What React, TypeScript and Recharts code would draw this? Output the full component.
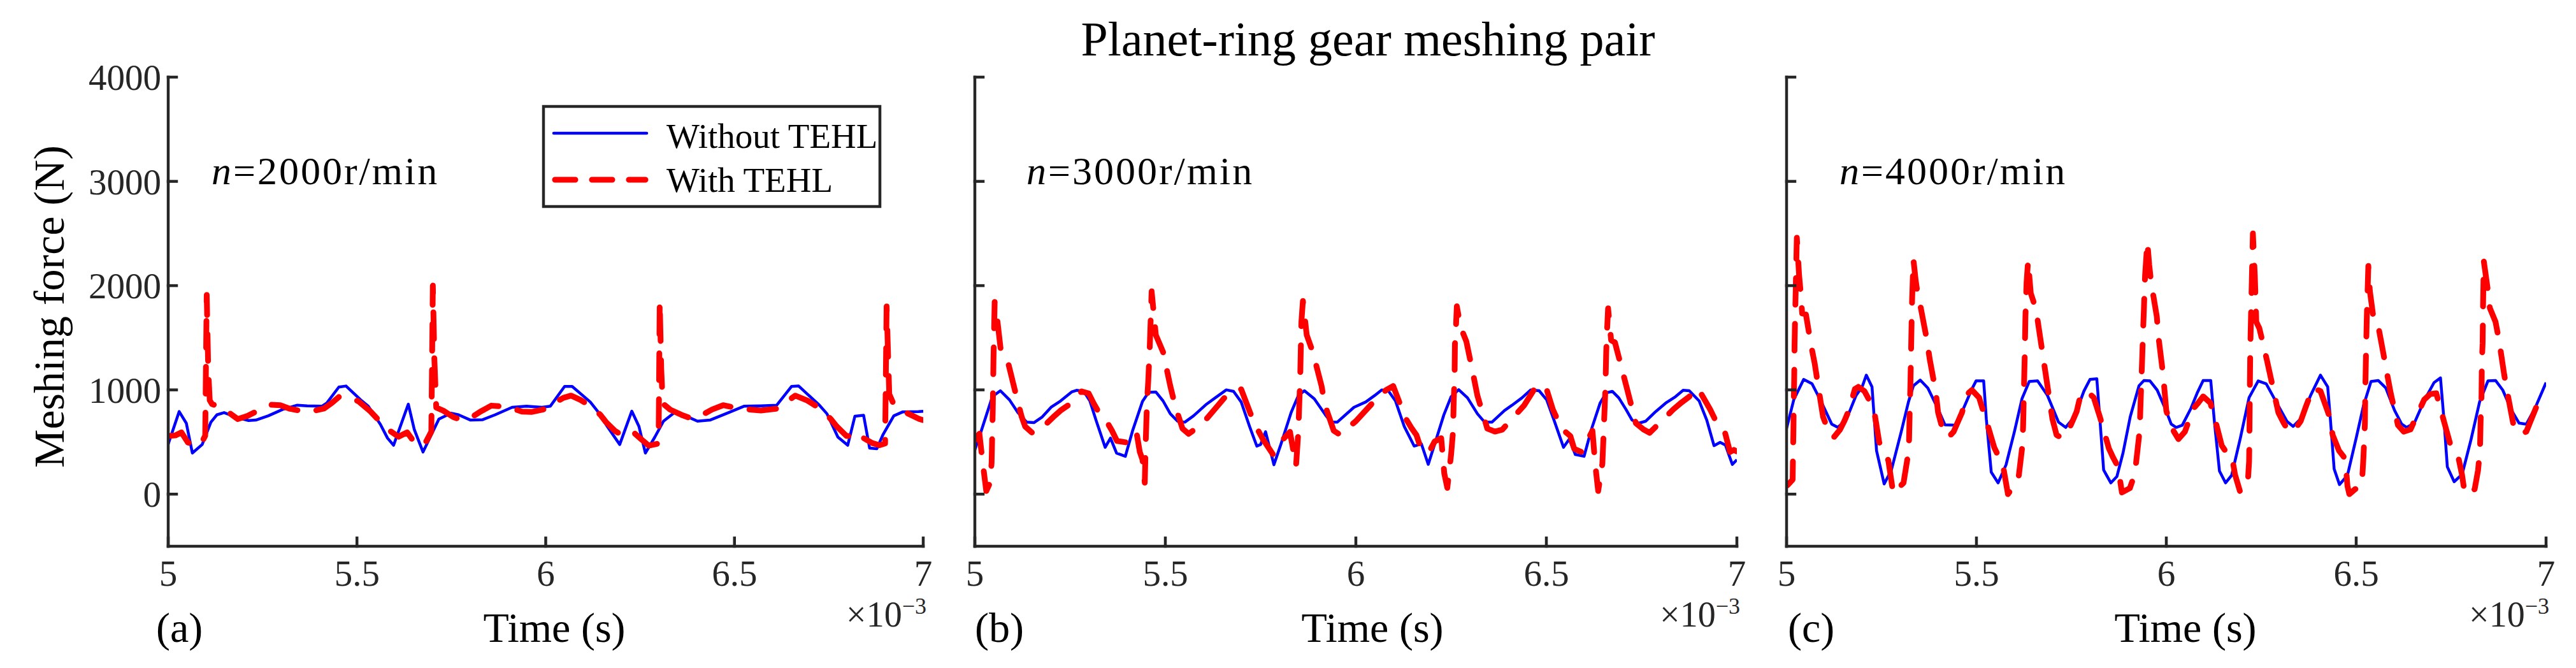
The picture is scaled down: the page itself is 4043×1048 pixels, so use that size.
import React from "react";
import { LineChart, Line, XAxis, YAxis } from "recharts";

// meshing force (N) vs time (x1e-3 s)
type Pt = [number, number];

const timeTicks = [5, 5.5, 6, 6.5, 7];
const forceTicks = [0, 1000, 2000, 3000, 4000];
const speeds = ["2000", "3000", "4000"];
const panelTags = ["(a)", "(b)", "(c)"];
const seriesNames = ["Without TEHL", "With TEHL"];

const aWithout: Pt[] = [
  [5.0, 480], [5.029, 792], [5.048, 680], [5.064, 394], [5.09, 476], [5.113, 690], [5.129, 761], [5.148, 782],
  [5.187, 730], [5.213, 706], [5.232, 710], [5.265, 751], [5.303, 812], [5.342, 853], [5.368, 847], [5.407, 843],
  [5.42, 873], [5.452, 1027], [5.471, 1037], [5.51, 904], [5.53, 843], [5.562, 669], [5.581, 537], [5.597, 469],
  [5.636, 863], [5.652, 618], [5.675, 404], [5.698, 578], [5.717, 720], [5.749, 776], [5.769, 761], [5.801, 710],
  [5.833, 714], [5.866, 761], [5.911, 833], [5.949, 843], [5.99, 833], [6.012, 843], [6.05, 1033], [6.07, 1033],
  [6.118, 884], [6.138, 792], [6.163, 649], [6.196, 476], [6.228, 796], [6.247, 649], [6.264, 394], [6.289, 547],
  [6.312, 700], [6.341, 782], [6.37, 751], [6.402, 700], [6.435, 710], [6.48, 776], [6.525, 843], [6.57, 847],
  [6.612, 853], [6.651, 1033], [6.67, 1037], [6.725, 853], [6.745, 771], [6.774, 547], [6.8, 469], [6.819, 747],
  [6.842, 757], [6.858, 441], [6.877, 435], [6.893, 567], [6.922, 751], [6.945, 788], [6.987, 792], [7.0, 795],
];

const aWith: Pt[] = [
  [5.0, 557], [5.019, 563], [5.035, 592], [5.052, 496], [5.071, 465], [5.085, 470], [5.098, 560], [5.102, 1910],
  [5.106, 1200], [5.11, 900], [5.116, 863], [5.142, 833], [5.161, 782], [5.184, 720], [5.21, 750], [5.236, 798],
  [5.271, 857], [5.297, 853], [5.323, 818], [5.35, 800], [5.374, 788], [5.413, 822], [5.433, 873], [5.453, 935],
  [5.48, 930], [5.504, 890], [5.536, 792], [5.565, 680], [5.59, 600], [5.61, 551], [5.633, 592], [5.652, 496],
  [5.678, 469], [5.697, 600], [5.701, 2000], [5.705, 1300], [5.71, 830], [5.729, 800], [5.755, 740], [5.778, 710],
  [5.801, 730], [5.827, 792], [5.856, 849], [5.885, 840], [5.911, 822], [5.937, 792], [5.962, 788], [5.999, 816],
  [6.025, 880], [6.047, 924], [6.067, 945], [6.092, 904], [6.125, 828], [6.145, 760], [6.16, 690], [6.183, 608],
  [6.209, 551], [6.234, 588], [6.255, 520], [6.273, 465], [6.299, 486], [6.302, 1850], [6.306, 1200], [6.31, 870],
  [6.33, 810], [6.36, 760], [6.39, 720], [6.415, 761], [6.441, 812], [6.47, 853], [6.5, 830], [6.525, 816],
  [6.57, 802], [6.616, 822], [6.64, 890], [6.661, 945], [6.693, 898], [6.735, 802], [6.755, 720], [6.771, 649],
  [6.797, 557], [6.816, 557], [6.832, 588], [6.842, 537], [6.865, 490], [6.884, 469], [6.899, 486], [6.903, 1800],
  [6.91, 960], [6.922, 860], [6.95, 790], [6.99, 720], [7.0, 710],
];

const bWithout: Pt[] = [
  [5.0, 424], [5.017, 608], [5.046, 935], [5.067, 992], [5.091, 904], [5.113, 782], [5.136, 690], [5.155, 686],
  [5.177, 741], [5.2, 833], [5.225, 894], [5.254, 980], [5.267, 996], [5.286, 986], [5.302, 894], [5.318, 710],
  [5.342, 449], [5.356, 537], [5.372, 394], [5.395, 363], [5.414, 608], [5.44, 890], [5.456, 976], [5.475, 980],
  [5.494, 894], [5.513, 771], [5.532, 700], [5.551, 690], [5.574, 751], [5.606, 857], [5.631, 924], [5.66, 1000],
  [5.679, 986], [5.699, 884], [5.721, 649], [5.74, 461], [5.75, 476], [5.763, 598], [5.785, 282], [5.804, 486],
  [5.83, 782], [5.849, 945], [5.865, 992], [5.891, 914], [5.92, 761], [5.935, 690], [5.951, 690], [5.995, 833],
  [6.026, 884], [6.049, 945], [6.068, 1000], [6.085, 992], [6.104, 894], [6.127, 649], [6.153, 461], [6.172, 482],
  [6.19, 286], [6.211, 527], [6.231, 761], [6.25, 935], [6.27, 1002], [6.293, 924], [6.319, 771], [6.338, 690],
  [6.357, 690], [6.39, 802], [6.41, 853], [6.436, 924], [6.459, 1000], [6.481, 992], [6.501, 904], [6.52, 710],
  [6.545, 449], [6.56, 527], [6.576, 380], [6.599, 363], [6.618, 618], [6.641, 873], [6.657, 971], [6.673, 986],
  [6.69, 924], [6.709, 812], [6.725, 710], [6.742, 680], [6.761, 700], [6.787, 792], [6.813, 873], [6.839, 935],
  [6.859, 996], [6.875, 992], [6.901, 894], [6.921, 710], [6.94, 465], [6.956, 496], [6.97, 470], [6.988, 285],
  [7.0, 330],
];

const bWith: Pt[] = [
  [5.0, 516], [5.012, 580], [5.02, 320], [5.03, 30], [5.04, 110], [5.044, 300], [5.047, 800], [5.049, 1300],
  [5.052, 1843], [5.059, 1669], [5.068, 1384], [5.088, 1251], [5.11, 924], [5.123, 741], [5.132, 649], [5.152, 584],
  [5.187, 673], [5.206, 740], [5.225, 802], [5.26, 890], [5.28, 986], [5.299, 965], [5.312, 870], [5.324, 792],
  [5.344, 710], [5.36, 608], [5.373, 510], [5.398, 496], [5.424, 598], [5.433, 404], [5.44, 330], [5.446, 110],
  [5.449, 560], [5.452, 894], [5.455, 1078], [5.459, 1404], [5.464, 1945], [5.475, 1527], [5.494, 1363],
  [5.513, 1037], [5.526, 843], [5.545, 629], [5.561, 578], [5.58, 629], [5.603, 700], [5.66, 945], [5.679, 975],
  [5.699, 1006], [5.731, 700], [5.744, 608], [5.756, 527], [5.782, 384], [5.804, 506], [5.827, 598], [5.843, 271],
  [5.849, 598], [5.854, 1129], [5.857, 1649], [5.861, 1853], [5.871, 1527], [5.887, 1363], [5.91, 1037],
  [5.919, 853], [5.942, 608], [5.958, 571], [5.977, 630], [6.0, 700], [6.059, 935], [6.08, 1000], [6.098, 1037],
  [6.13, 731], [6.145, 640], [6.159, 567], [6.172, 424], [6.192, 404], [6.207, 506], [6.224, 537], [6.232, 200],
  [6.24, 60], [6.25, 380], [6.255, 600], [6.257, 914], [6.259, 1098], [6.26, 1435], [6.263, 1629], [6.265, 1802],
  [6.275, 1600], [6.29, 1465], [6.309, 1129], [6.319, 945], [6.345, 629], [6.365, 600], [6.384, 618], [6.442, 853],
  [6.472, 1027], [6.498, 1037], [6.517, 812], [6.54, 629], [6.563, 557], [6.573, 435], [6.592, 404], [6.621, 608],
  [6.628, 292], [6.636, 30], [6.647, 292], [6.65, 560], [6.653, 833], [6.655, 1016], [6.657, 1353], [6.659, 1547],
  [6.662, 1782], [6.67, 1476], [6.68, 1455], [6.699, 1190], [6.712, 1006], [6.735, 680], [6.755, 620], [6.771, 588],
  [6.833, 812], [6.855, 880], [6.875, 935], [6.898, 1016], [6.93, 812], [6.953, 639], [6.969, 588], [6.982, 404],
  [6.992, 424], [7.0, 410],
];

const cWithout: Pt[] = [
  [5.0, 630], [5.019, 906], [5.045, 1100], [5.067, 1059], [5.09, 896], [5.119, 671], [5.135, 640], [5.157, 712],
  [5.183, 947], [5.199, 1029], [5.21, 1141], [5.225, 1029], [5.231, 722], [5.237, 415], [5.257, 98], [5.276, 231],
  [5.302, 599], [5.321, 885], [5.334, 1039], [5.352, 1094], [5.372, 1018], [5.398, 824], [5.417, 665], [5.443, 661],
  [5.459, 763], [5.488, 1008], [5.499, 1086], [5.519, 1086], [5.526, 722], [5.539, 211], [5.557, 108], [5.578, 282],
  [5.6, 599], [5.62, 916], [5.639, 1080], [5.661, 1086], [5.687, 947], [5.716, 691], [5.735, 640], [5.758, 742],
  [5.783, 988], [5.799, 1100], [5.817, 1106], [5.825, 722], [5.835, 231], [5.854, 108], [5.87, 170], [5.886, 395],
  [5.905, 742], [5.928, 1039], [5.941, 1090], [5.957, 1086], [5.976, 998], [5.999, 804], [6.013, 671], [6.026, 640],
  [6.042, 661], [6.065, 824], [6.081, 967], [6.097, 1090], [6.117, 1090], [6.127, 681], [6.14, 221], [6.156, 108],
  [6.172, 180], [6.195, 538], [6.218, 926], [6.242, 1086], [6.263, 1059], [6.286, 906], [6.318, 697], [6.334, 650],
  [6.354, 722], [6.38, 947], [6.406, 1141], [6.425, 1029], [6.432, 722], [6.442, 241], [6.456, 92], [6.477, 180],
  [6.5, 538], [6.519, 845], [6.539, 1080], [6.558, 1090], [6.578, 1018], [6.601, 804], [6.62, 671], [6.633, 640],
  [6.653, 681], [6.679, 896], [6.705, 1070], [6.722, 1115], [6.731, 722], [6.74, 262], [6.758, 119], [6.779, 190],
  [6.802, 517], [6.825, 885], [6.847, 1086], [6.867, 1090], [6.886, 998], [6.909, 804], [6.929, 681], [6.948, 671],
  [6.971, 824], [7.0, 1070],
];

const cWith: Pt[] = [
  [5.0, 80], [5.003, 88], [5.016, 139], [5.017, 395], [5.018, 600], [5.019, 906], [5.02, 1090], [5.021, 1427],
  [5.022, 1611], [5.024, 1949], [5.027, 2460], [5.033, 2100], [5.038, 1900], [5.041, 1734], [5.051, 1724],
  [5.064, 1438], [5.074, 1254], [5.088, 926], [5.096, 742], [5.115, 558], [5.125, 548], [5.141, 620], [5.152, 700],
  [5.164, 804], [5.18, 1008], [5.189, 1029], [5.205, 988], [5.218, 900], [5.23, 814], [5.244, 497], [5.256, 410],
  [5.268, 323], [5.281, 6], [5.295, 60], [5.308, 108], [5.322, 425], [5.324, 760], [5.326, 1030], [5.328, 1400],
  [5.33, 1800], [5.334, 2250], [5.34, 2050], [5.346, 1900], [5.353, 1795], [5.369, 1489], [5.377, 1294],
  [5.393, 978], [5.399, 783], [5.414, 579], [5.427, 548], [5.44, 599], [5.452, 700], [5.462, 783], [5.475, 957],
  [5.488, 998], [5.507, 926], [5.515, 830], [5.523, 742], [5.547, 446], [5.56, 350], [5.57, 272], [5.583, 0],
  [5.598, 80], [5.611, 160], [5.621, 466], [5.623, 661], [5.625, 1000], [5.627, 1300], [5.629, 1703], [5.632, 2030],
  [5.636, 2236], [5.643, 1928], [5.65, 1850], [5.658, 1744], [5.671, 1427], [5.679, 1233], [5.692, 916],
  [5.7, 722], [5.711, 568], [5.725, 538], [5.742, 609], [5.753, 700], [5.764, 793], [5.774, 947], [5.79, 988],
  [5.809, 926], [5.825, 742], [5.849, 436], [5.86, 350], [5.873, 262], [5.883, 16], [5.904, 57], [5.912, 140],
  [5.918, 221], [5.928, 548], [5.931, 742], [5.934, 1059], [5.936, 1254], [5.939, 1581], [5.941, 1775],
  [5.944, 2092], [5.95, 2420], [5.955, 2200], [5.96, 2030], [5.975, 1703], [5.979, 1519], [5.99, 1192],
  [5.995, 1008], [6.0, 800], [6.01, 681], [6.02, 600], [6.032, 528], [6.049, 599], [6.07, 814], [6.085, 880],
  [6.097, 937], [6.116, 875], [6.133, 650], [6.146, 466], [6.159, 395], [6.172, 374], [6.181, 186], [6.194, 27],
  [6.214, 78], [6.218, 313], [6.219, 600], [6.22, 1018], [6.221, 1356], [6.222, 1540], [6.224, 1867], [6.228, 2500],
  [6.233, 2100], [6.237, 1652], [6.245, 1591], [6.265, 1284], [6.276, 1100], [6.295, 783], [6.308, 690],
  [6.321, 609], [6.334, 599], [6.354, 701], [6.367, 834], [6.386, 1018], [6.406, 988], [6.429, 753], [6.438, 568],
  [6.455, 415], [6.468, 354], [6.473, 262], [6.477, 78], [6.482, 0], [6.497, 47], [6.513, 67], [6.516, 160],
  [6.519, 344], [6.523, 681], [6.524, 1000], [6.526, 1366], [6.528, 1703], [6.532, 2188], [6.536, 1949],
  [6.545, 1703], [6.555, 1673], [6.565, 1479], [6.581, 1162], [6.591, 967], [6.61, 661], [6.625, 600], [6.643, 620],
  [6.679, 906], [6.695, 960], [6.711, 967], [6.734, 661], [6.748, 476], [6.769, 354], [6.779, 180], [6.786, 0],
  [6.812, 47], [6.821, 231], [6.826, 425], [6.828, 753], [6.83, 937], [6.831, 1274], [6.833, 1448], [6.834, 1785],
  [6.836, 2236], [6.847, 1949], [6.852, 1785], [6.867, 1652], [6.877, 1458], [6.89, 1141], [6.899, 957],
  [6.916, 630], [6.932, 580], [6.948, 599], [6.981, 896], [7.0, 950],
];

const FONT = '"Liberation Serif", "Times New Roman", Times, serif';
const AXIS = "#262626";
const BLUE = "#0000ff";
const RED = "#ff0000";
const W = 4043;
const H = 1048;
const PLOT_TOP = 121;
const PLOT_BOTTOM = 857;
const XAXIS_H = 60;

const toRows = (pts: Pt[]) => pts.map(([t, f]) => ({ t, f }));

const panels = [
  { left: 264, right: 1449, without: aWithout, withT: aWith, tagX: 245, timeX: 870, noteX: 332 },
  { left: 1530, right: 2726, without: bWithout, withT: bWith, tagX: 1530, timeX: 2154, noteX: 1611 },
  { left: 2804, right: 3996, without: cWithout, withT: cWith, tagX: 2806, timeX: 3430, noteX: 2887 },
];

const lineStyle = { stroke: AXIS, strokeWidth: 4.5, strokeLinecap: "square" as const };

function Panel({ idx }: { idx: number }) {
  const p = panels[idx];
  const showY = idx === 0;
  const yw = showY ? p.left : 20;
  const chartLeft = p.left - yw;
  const plotW = p.right - p.left;
  const width = yw + plotW + 20;
  return (
    <div style={{ position: "absolute", left: chartLeft, top: 0 }}>
      <LineChart
        width={width}
        height={H}
        margin={{ top: PLOT_TOP, right: 20, bottom: H - PLOT_BOTTOM - XAXIS_H, left: 0 }}
      >
        <XAxis
          xAxisId="b"
          dataKey="t"
          type="number"
          domain={[5, 7]}
          ticks={timeTicks}
          interval={0}
          allowDataOverflow
          height={XAXIS_H}
          tickSize={-13}
          tickMargin={35}
          axisLine={lineStyle}
          tickLine={lineStyle}
          tick={{ fontSize: 57, fontFamily: FONT, fill: AXIS }}
        />
        <XAxis
          xAxisId="top"
          orientation="top"
          dataKey="t"
          type="number"
          domain={[5, 7]}
          ticks={timeTicks}
          interval={0}
          allowDataOverflow
          height={0}
          tickSize={-13}
          axisLine={lineStyle}
          tickLine={lineStyle}
          tickFormatter={() => ""}
        />
        <YAxis
          yAxisId="l"
          type="number"
          domain={[-500, 4000]}
          ticks={forceTicks}
          interval={0}
          allowDataOverflow
          width={yw}
          tickSize={-13}
          tickMargin={24}
          axisLine={lineStyle}
          tickLine={lineStyle}
          tick={{ fontSize: 57, fontFamily: FONT, fill: AXIS }}
          tickFormatter={showY ? (v: number) => String(v) : () => ""}
        />
        <YAxis
          yAxisId="r"
          orientation="right"
          type="number"
          domain={[-500, 4000]}
          ticks={forceTicks}
          interval={0}
          allowDataOverflow
          width={0}
          tickSize={-13}
          axisLine={lineStyle}
          tickLine={lineStyle}
          tickFormatter={() => ""}
        />
        <Line
          xAxisId="b"
          yAxisId="l"
          data={toRows(p.without)}
          dataKey="f"
          name={seriesNames[0]}
          type="linear"
          stroke={BLUE}
          strokeWidth={4.5}
          strokeLinejoin="round"
          dot={false}
          activeDot={false}
          isAnimationActive={false}
        />
        <Line
          xAxisId="b"
          yAxisId="l"
          data={toRows(p.withT)}
          dataKey="f"
          name={seriesNames[1]}
          type="linear"
          stroke={RED}
          strokeWidth={9}
          strokeDasharray="42 30"
          strokeLinecap="round"
          strokeLinejoin="round"
          dot={false}
          activeDot={false}
          isAnimationActive={false}
        />
      </LineChart>
    </div>
  );
}

function Overlay() {
  return (
    <svg
      width={W}
      height={H}
      style={{ position: "absolute", left: 0, top: 0, pointerEvents: "none" }}
      fontFamily={FONT}
    >
      <text x={2147} y={87} fontSize={76} textAnchor="middle" fill="#000">
        Planet-ring gear meshing pair
      </text>
      <text transform="translate(100,481) rotate(-90)" fontSize={68} textAnchor="middle" fill="#000">
        Meshing force (N)
      </text>
      {panels.map((p, i) => (
        <g key={i}>
          <text x={p.noteX} y={289} fontSize={62} letterSpacing={3} fill="#000">
            <tspan fontStyle="italic">n</tspan>={speeds[i]}r/min
          </text>
          <text x={p.tagX} y={1007} fontSize={66} fill="#000">
            {panelTags[i]}
          </text>
          <text x={p.timeX} y={1007} fontSize={66} textAnchor="middle" fill="#000">
            Time (s)
          </text>
          <text x={p.right + 5} y={983} fontSize={56} textAnchor="end" fill={AXIS}>
            ×10<tspan dy={-20} fontSize={36}>−3</tspan>
          </text>
        </g>
      ))}
      <g>
        <rect x={853} y={167} width={528} height={157} fill="#fff" stroke={AXIS} strokeWidth={4.5} />
        <line x1={869} y1={209} x2={1015} y2={209} stroke={BLUE} strokeWidth={4.5} strokeLinecap="round" />
        <line
          x1={871}
          y1={282}
          x2={1013}
          y2={282}
          stroke={RED}
          strokeWidth={9}
          strokeDasharray="32 26"
          strokeLinecap="round"
        />
        <text x={1046} y={232} fontSize={55} fill="#000">
          {seriesNames[0]}
        </text>
        <text x={1046} y={301} fontSize={55} fill="#000">
          {seriesNames[1]}
        </text>
      </g>
    </svg>
  );
}

export default function App() {
  return (
    <div style={{ position: "absolute", left: 0, top: 0, width: W, height: H, background: "#fff" }}>
      <Panel idx={0} />
      <Panel idx={1} />
      <Panel idx={2} />
      <Overlay />
    </div>
  );
}
